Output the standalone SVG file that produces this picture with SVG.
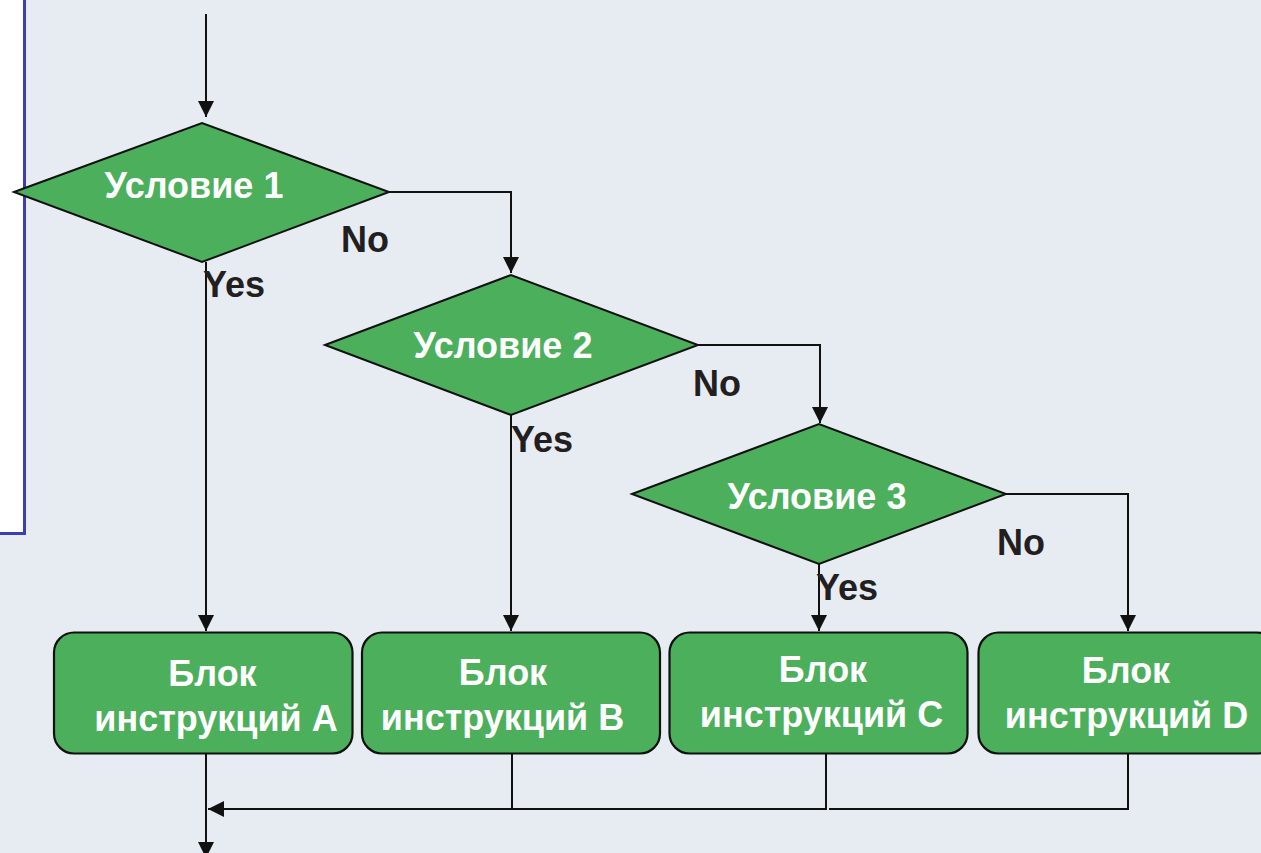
<svg xmlns="http://www.w3.org/2000/svg" width="1261" height="853" viewBox="0 0 1261 853">
  <style>
    .bg { fill: #E6ECF1; }
    .panel { fill: #FFFFFF; stroke: #3B3FB3; stroke-width: 3; }
    .decision { fill: #4BAF5C; stroke: #111111; stroke-width: 2; stroke-linejoin: miter; }
    .block { fill: #4BAF5C; stroke: #111111; stroke-width: 2.2; }
    .node-text { font-family: "Liberation Sans", Arial, sans-serif; font-weight: bold; font-size: 36px; fill: #FFFFFF; text-anchor: middle; }
    .label { font-family: "Liberation Sans", Arial, sans-serif; font-weight: bold; font-size: 36px; fill: #231F20; }
    .flow { fill: none; stroke: #111111; stroke-width: 2; }
  </style>
  <defs>
    <marker id="arrow" viewBox="0 0 16 16" refX="16" refY="8" markerWidth="16" markerHeight="16" markerUnits="userSpaceOnUse" orient="auto">
      <path d="M0,0 L16,8 L0,16 Z" fill="#111111"/>
    </marker>
  </defs>

  <!-- page background and side panel -->
  <rect class="bg" x="0" y="0" width="1261" height="853"/>
  <rect class="panel" x="-10" y="-10" width="34.5" height="543.5"/>

  <!-- connectors -->
  <g id="connectors">
    <path class="flow" d="M206,14 L206,117" marker-end="url(#arrow)"/>
    <path class="flow" d="M389,192 L511,192 L511,273" marker-end="url(#arrow)"/>
    <path class="flow" d="M698,345 L820,345 L820,423" marker-end="url(#arrow)"/>
    <path class="flow" d="M1006,494 L1128,494 L1128,631" marker-end="url(#arrow)"/>
    <path class="flow" d="M206,262 L206,631" marker-end="url(#arrow)"/>
    <path class="flow" d="M511,415 L511,631" marker-end="url(#arrow)"/>
    <path class="flow" d="M819,564 L819,631" marker-end="url(#arrow)"/>
    <path class="flow" d="M206,754 L206,858" marker-end="url(#arrow)"/>
    <path class="flow" d="M512,754 L512,809"/>
    <path class="flow" d="M826,754 L826,809 L208,809" marker-end="url(#arrow)"/>
    <path class="flow" d="M1128,754 L1128,809 L829,809"/>
  </g>

  <!-- decisions -->
  <g id="cond1">
    <polygon class="decision" points="14,192 202,123 389,192 202,262"/>
    <text class="node-text" x="194" y="198">Условие 1</text>
  </g>
  <g id="cond2">
    <polygon class="decision" points="325,345 511,275 698,345 511,415"/>
    <text class="node-text" x="503" y="358">Условие 2</text>
  </g>
  <g id="cond3">
    <polygon class="decision" points="632,494 819,424 1006,494 819,564"/>
    <text class="node-text" x="817" y="509">Условие 3</text>
  </g>

  <!-- branch labels -->
  <g id="branch-labels">
    <text class="label" x="341" y="252">No</text>
    <text class="label" x="203" y="297">Yes</text>
    <text class="label" x="693" y="396">No</text>
    <text class="label" x="511" y="452">Yes</text>
    <text class="label" x="997" y="555">No</text>
    <text class="label" x="816" y="600">Yes</text>
  </g>

  <!-- instruction blocks -->
  <g id="blockA">
    <rect class="block" x="54" y="632.5" width="298.5" height="121" rx="20" ry="20"/>
    <text class="node-text" x="212.5" y="686">Блок</text>
    <text class="node-text" x="216" y="731">инструкций A</text>
  </g>
  <g id="blockB">
    <rect class="block" x="362" y="632.5" width="298" height="121" rx="20" ry="20"/>
    <text class="node-text" x="503" y="685">Блок</text>
    <text class="node-text" x="502.5" y="730">инструкций B</text>
  </g>
  <g id="blockC">
    <rect class="block" x="669.5" y="632.5" width="298" height="121" rx="20" ry="20"/>
    <text class="node-text" x="823" y="682">Блок</text>
    <text class="node-text" x="821.5" y="727">инструкций C</text>
  </g>
  <g id="blockD">
    <rect class="block" x="978.5" y="632.5" width="298" height="121" rx="20" ry="20"/>
    <text class="node-text" x="1126" y="683">Блок</text>
    <text class="node-text" x="1126.5" y="728">инструкций D</text>
  </g>
</svg>
